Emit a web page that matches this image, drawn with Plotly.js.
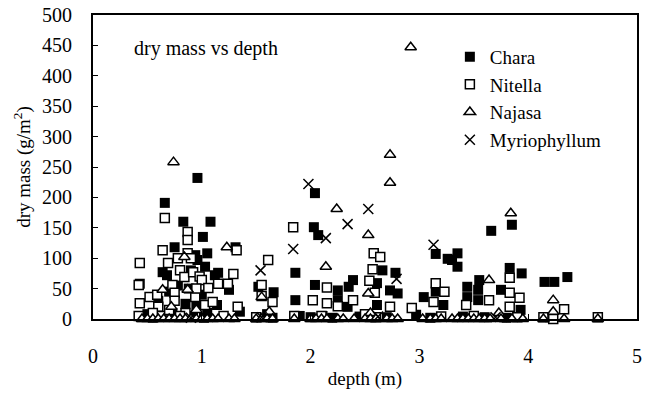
<!DOCTYPE html>
<html>
<head>
<meta charset="utf-8">
<script src="https://cdn.plot.ly/plotly-3.0.1.min.js"></script>
<style>html,body{margin:0;padding:0;background:#fff;}#chart{width:653px;height:397px;}</style>
</head>
<body>
<div id="chart"></div>
<script>
// Chara (filled squares)
const charaX = [0.43,0.45,0.5,0.6,0.64,0.66,0.68,0.7,0.73,0.75,0.78,0.83,0.85,0.88,0.9,0.94,0.95,0.96,0.96,1.0,1.01,1.03,1.05,1.05,1.08,1.12,1.15,1.14,1.25,1.31,1.35,1.52,1.66,1.6,1.86,1.86,1.9,2.03,2.04,2.04,2.07,2.11,2.25,2.25,2.35,2.34,2.39,2.61,2.61,2.66,2.73,2.78,2.8,2.97,3.04,3.15,3.15,3.22,3.26,3.3,3.35,3.35,3.44,3.44,3.54,3.55,3.54,3.66,3.75,3.83,3.85,3.93,3.94,4.15,4.24,4.36,0.55,0.62,0.8,0.92,1.02,1.5,1.65,2.0,2.2,2.45,2.7,3.1,3.4,3.6,3.8,4.2];
const charaY = [58,3,8,30,77,191,72,45,10,118,55,160,25,50,80,105,20,232,97,40,135,86,108,10,160,72,76,23,48,118,12,53,44,8,76,31,5,151,207,56,138,5,47,31,53,20,64,59,23,80,47,76,42,7,36,107,45,23,99,97,108,86,53,36,48,64,31,145,48,84,155,15,75,61,61,69,2,4,3,5,2,3,2,3,2,4,3,2,4,3,2,3];
// Nitella (open squares)
const nitellaX = [0.42,0.43,0.43,0.42,0.52,0.59,0.6,0.64,0.66,0.69,0.73,0.75,0.75,0.78,0.8,0.84,0.87,0.87,0.87,0.9,0.92,0.94,0.98,1.0,1.03,1.06,1.1,0.85,0.63,0.95,1.15,1.24,1.29,1.33,1.32,1.55,1.55,1.61,1.65,1.84,2.02,2.15,2.15,2.25,2.39,2.54,2.57,2.58,2.64,2.59,2.73,2.93,3.13,3.15,3.23,3.43,3.64,3.83,3.83,3.83,3.92,4.33,4.23,4.64,4.14,0.55,0.7,0.8,1.2,1.5,1.85,2.1,2.5,2.6,3.2,3.5,3.9];
const nitellaY = [56,92,26,5,36,40,20,113,166,92,56,43,30,100,80,69,143,130,108,100,77,36,70,64,23,51,28,10,5,50,58,58,74,20,113,56,38,97,28,151,31,52,26,21,31,63,82,108,102,43,20,18,28,59,45,23,31,68,43,20,35,16,0,3,3,10,15,5,5,3,5,5,8,3,4,5,3];
// Najasa (open triangles)
const najasaX = [0.74,0.84,0.64,0.87,0.72,0.95,1.23,1.55,2.14,2.24,2.53,2.53,2.73,2.73,2.92,3.64,3.84,4.23,4.23,3.73,2.55,1.62,0.45,0.5,0.55,0.6,0.65,0.7,0.75,0.8,0.85,0.9,0.95,1.0,1.05,1.1,1.15,1.25,1.3,1.5,1.55,1.6,1.65,1.85,2.0,2.05,2.1,2.15,2.25,2.3,2.4,2.5,2.55,2.6,2.7,2.75,2.8,3.03,3.1,3.15,3.2,3.3,3.35,3.4,3.45,3.5,3.55,3.6,3.65,3.75,3.85,3.95,4.14,4.33,4.64];
const najasaY = [258,102,48,48,20,15,118,36,86,181,138,42,224,270,447,64,174,31,12,10,10,12,0,0,0,0,0,0,0,0,0,0,0,0,0,0,0,0,0,0,0,0,0,0,0,0,0,0,0,0,0,0,0,0,0,0,0,0,0,0,0,0,0,0,0,0,0,0,0,0,0,0,0,0,0];
// Myriophyllum (crosses)
const myrioX = [1.54,1.84,1.98,2.14,2.34,2.53,2.79,3.13,0.9,1.55,2.62,3.7];
const myrioY = [80,115,222,133,156,181,66,122,2,3,4,3];

const seriesNames = ["Chara","Nitella","Najasa","Myriophyllum"];
const yTickVals = [0,50,100,150,200,250,300,350,400,450,500];
const xTickVals = [0,1,2,3,4,5];

const FONT = "Liberation Serif, Times New Roman, serif";

const traces = [
  {x: charaX, y: charaY, name: seriesNames[0], legendgroup: "a", type: "scatter", mode: "markers", cliponaxis: false,
   marker: {symbol: "square", size: 10, color: "#000", line: {color: "#000", width: 0}}},
  {x: nitellaX, y: nitellaY, name: seriesNames[1], legendgroup: "b", type: "scatter", mode: "markers", cliponaxis: false,
   marker: {symbol: "square", size: 9, color: "#fff", line: {color: "#000", width: 1.5}}},
  {x: najasaX, y: najasaY, name: seriesNames[2], legendgroup: "c", type: "scatter", mode: "markers", cliponaxis: false,
   marker: {symbol: "triangle-up", size: 10, color: "#fff", line: {color: "#000", width: 1.5}}},
  {x: myrioX, y: myrioY, name: seriesNames[3], legendgroup: "d", type: "scatter", mode: "markers", cliponaxis: false,
   marker: {symbol: "x-thin-open", size: 10, color: "#000", line: {color: "#000", width: 1.5}}}
];

const layout = {
  width: 653, height: 397,
  margin: {l: 93, r: 16, t: 15, b: 78},
  paper_bgcolor: "#fff", plot_bgcolor: "#fff",
  font: {family: FONT, size: 19, color: "#000"},
  showlegend: true,
  legend: {x: 0.656, y: 0.925, xanchor: "left", yanchor: "top", bgcolor: "rgba(0,0,0,0)",
           font: {family: FONT, size: 19, color: "#000"}, traceorder: "grouped", tracegroupgap: 0},
  xaxis: {range: [0, 5], tickvals: xTickVals, showgrid: false, zeroline: false,
          showline: true, linecolor: "#000", linewidth: 2, mirror: true,
          ticks: "inside", ticklen: 5, tickcolor: "#000", ticklabelstandoff: 18,
          tickfont: {family: FONT, size: 20},
          title: {text: "depth (m)", font: {family: FONT, size: 19}, standoff: 6}},
  yaxis: {range: [0, 500], tickvals: yTickVals, showgrid: false, zeroline: false,
          showline: true, linecolor: "#000", linewidth: 2, mirror: true,
          ticks: "inside", ticklen: 5, tickcolor: "#000", ticklabelstandoff: 15,
          tickfont: {family: FONT, size: 20},
          title: {text: "dry mass (g/m<sup>2</sup>)", font: {family: FONT, size: 19}, standoff: 6}},
  annotations: [{text: "dry mass vs depth", xref: "paper", yref: "paper", x: 0.071, y: 0.89,
                 xanchor: "left", yanchor: "middle", showarrow: false,
                 font: {family: FONT, size: 20, color: "#000"}}]
};

Plotly.newPlot("chart", traces, layout, {displayModeBar: false, staticPlot: true});
</script>
</body>
</html>
